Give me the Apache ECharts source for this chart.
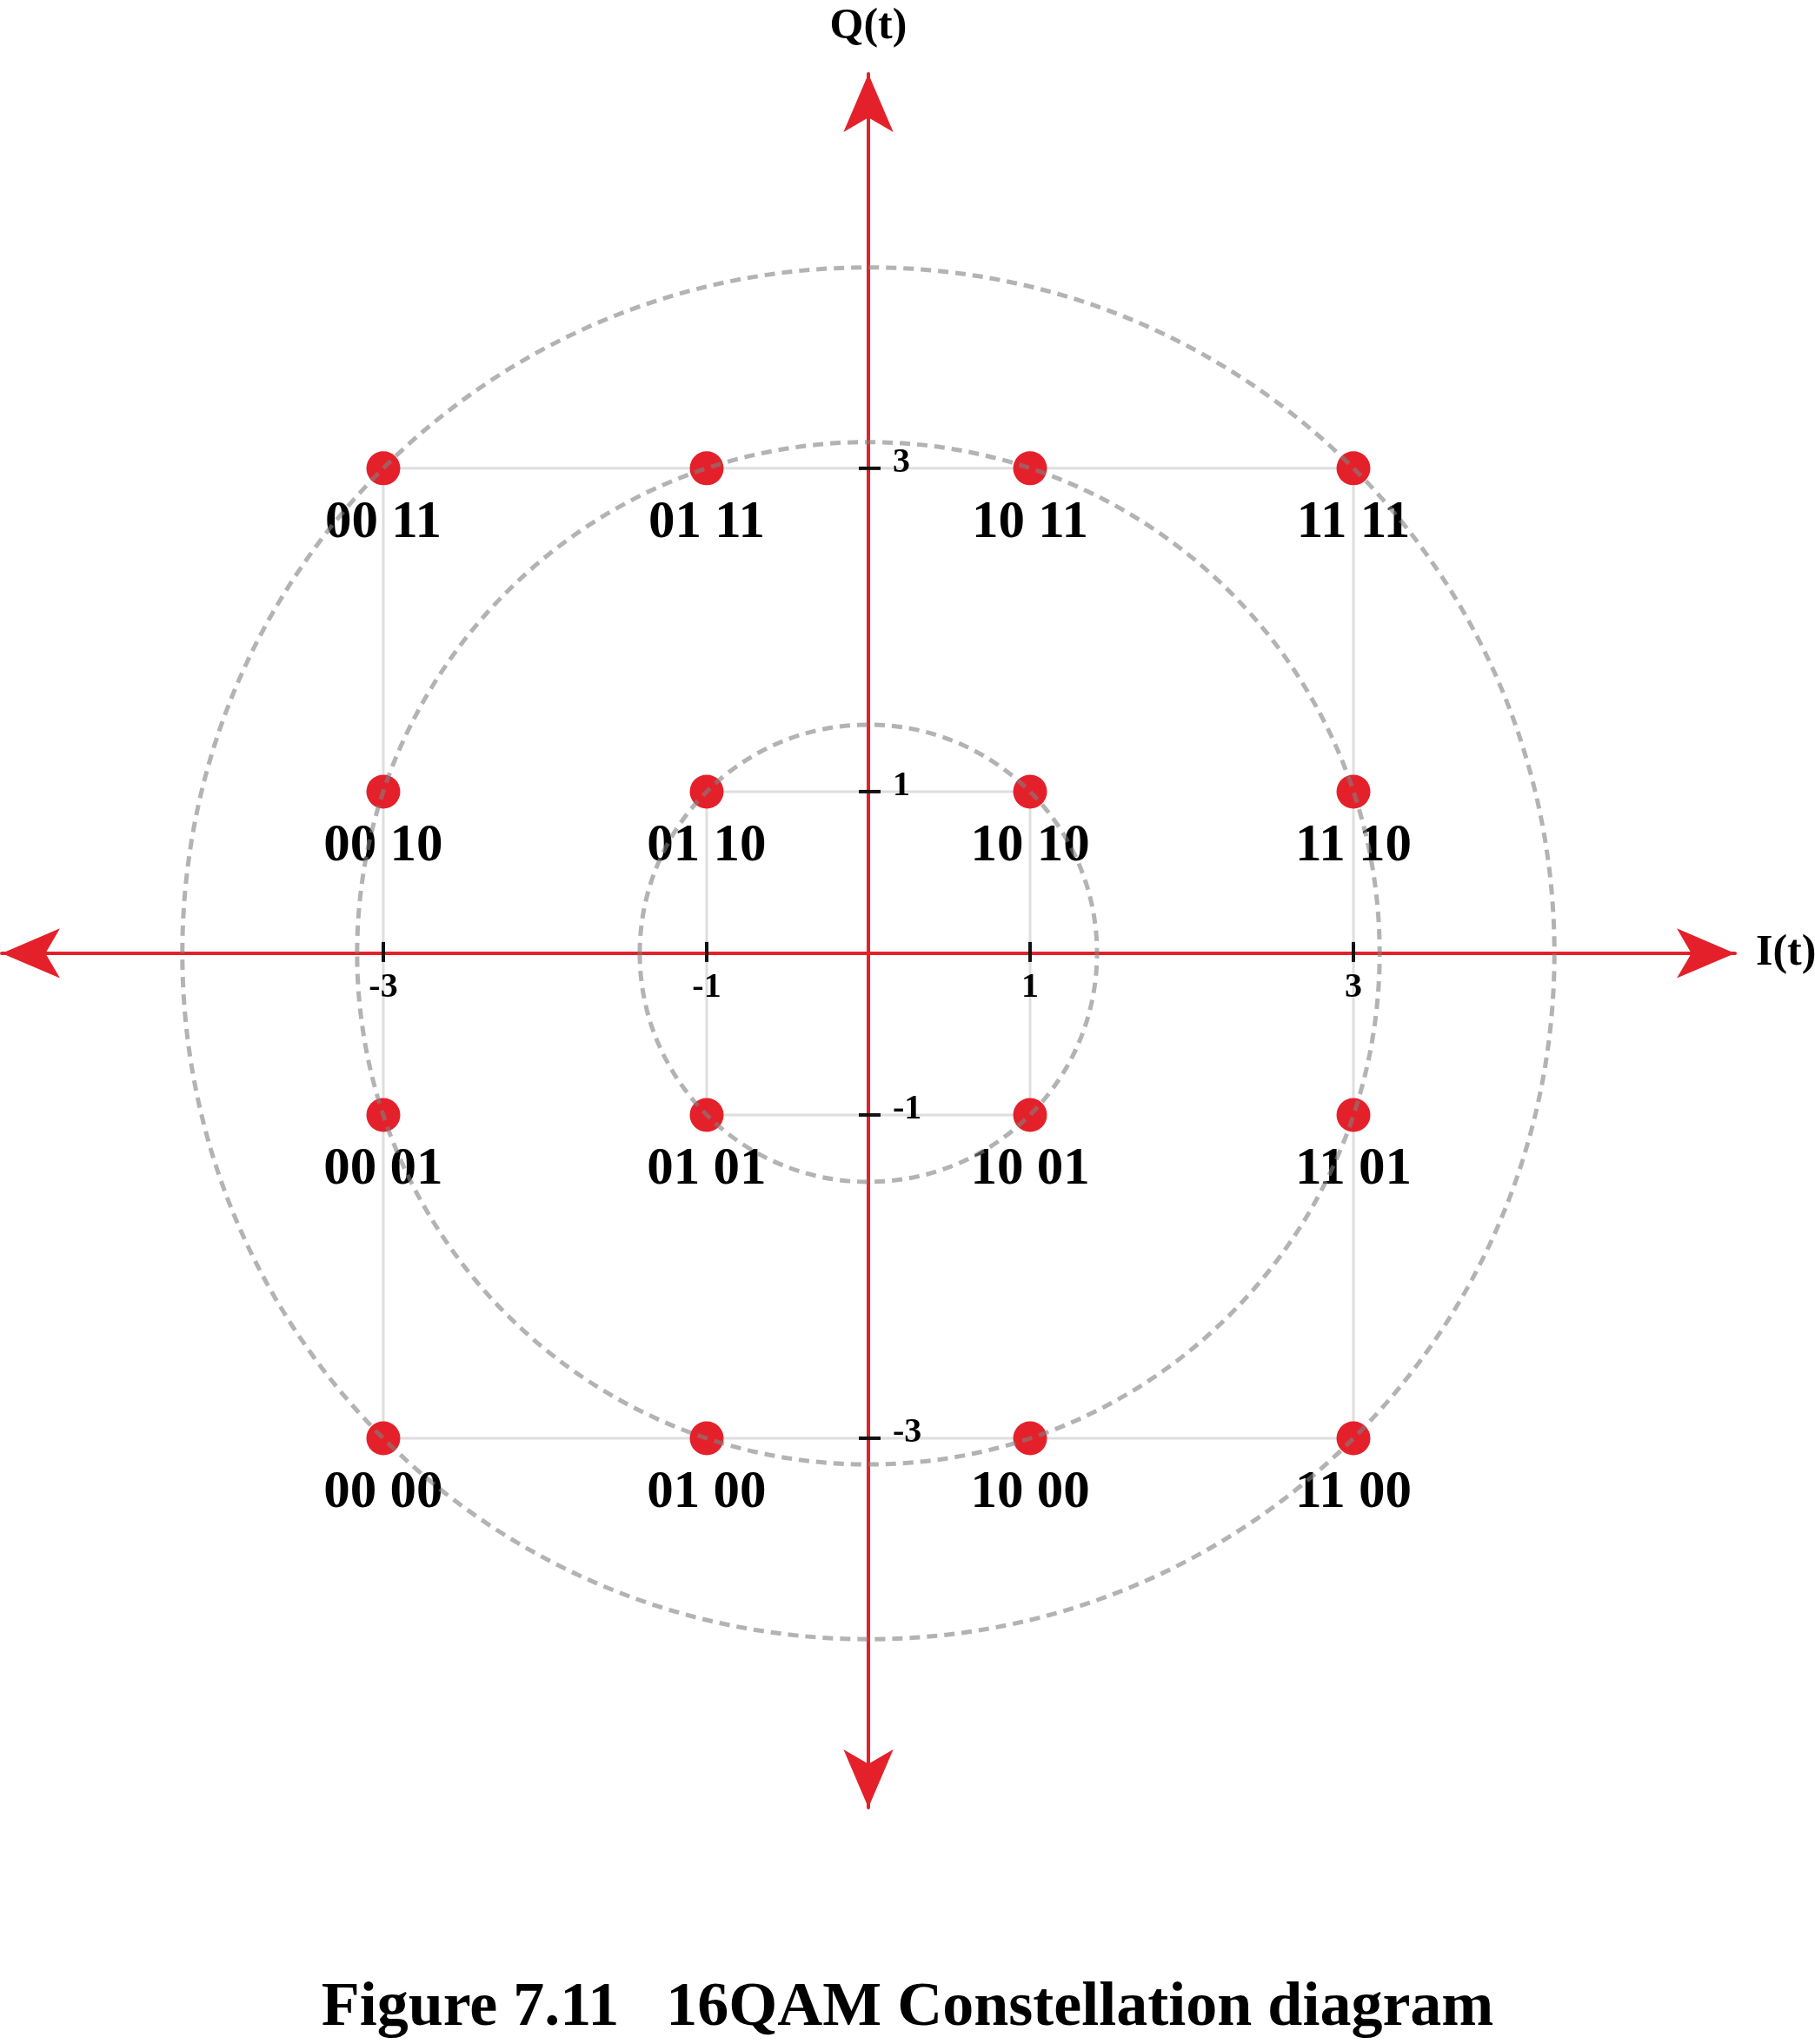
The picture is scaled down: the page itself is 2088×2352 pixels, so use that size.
<!DOCTYPE html>
<html><head><meta charset="utf-8">
<script src="https://cdn.jsdelivr.net/npm/echarts@6/dist/echarts.min.js"></script>
<style>html,body{margin:0;padding:0;background:#fff}#chart{width:2088px;height:2352px}</style>
</head><body><div id="chart"></div>
<script>
// ---- data ----
const pointI = [-3, -1, 1, 3, -3, -1, 1, 3, -3, -1, 1, 3, -3, -1, 1, 3];
const pointQ = [3, 3, 3, 3, 1, 1, 1, 1, -1, -1, -1, -1, -3, -3, -3, -3];
const pointLabels = ['00 11', '01 11', '10 11', '11 11',
                     '00 10', '01 10', '10 10', '11 10',
                     '00 01', '01 01', '10 01', '11 01',
                     '00 00', '01 00', '10 00', '11 00'];
const tickValues = [-3, -1, 1, 3];
const tickLabels = ['-3', '-1', '1', '3'];
const ringRadii = [1.414, 3.162, 4.243];
const outerSquareI = [-3, 3, 3, -3, -3];
const outerSquareQ = [3, 3, -3, -3, 3];
const innerSquareI = [-1, 1, 1, -1, -1];
const innerSquareQ = [1, 1, -1, -1, 1];
const axisNames = ['I(t)', 'Q(t)'];
const titleText = 'Figure 7.11   16QAM Constellation diagram';

// ---- styles ----
const RED = '#e4212a';
const FONT = 'Liberation Serif';
const X_MIN = -5.36, X_MAX = 5.36, Y_MIN = -5.285, Y_MAX = 5.44;

const chart = echarts.init(document.getElementById('chart'), null, { renderer: 'canvas' });
chart.setOption({
  backgroundColor: '#ffffff',
  animation: false,
  title: {
    text: titleText, left: 'center', top: 2270,
    textStyle: { fontFamily: FONT, fontWeight: 'bold', fontSize: 72, color: '#000' }
  },
  grid: { left: 2, top: 85, width: 1994, height: 1995, containLabel: false, outerBoundsMode: 'none' },
  xAxis: {
    type: 'value', min: X_MIN, max: X_MAX,
    name: axisNames[0], nameLocation: 'end', nameGap: 24, nameMoveOverlap: false,
    nameTextStyle: { fontFamily: FONT, fontWeight: 'bold', fontSize: 50, color: '#000', verticalAlign: 'middle', align: 'left' },
    axisLine: { show: true, onZero: true, symbol: ['arrow', 'arrow'], symbolSize: [43, 67],
      lineStyle: { color: RED, width: 4 } },
    axisTick: { show: false }, axisLabel: { show: false }, splitLine: { show: false }
  },
  yAxis: {
    type: 'value', min: Y_MIN, max: Y_MAX,
    name: axisNames[1], nameLocation: 'end', nameGap: 29, nameMoveOverlap: false,
    nameTextStyle: { fontFamily: FONT, fontWeight: 'bold', fontSize: 50, color: '#000', align: 'center', verticalAlign: 'bottom' },
    axisLine: { show: true, onZero: true, symbol: ['arrow', 'arrow'], symbolSize: [43, 67],
      lineStyle: { color: RED, width: 4 } },
    axisTick: { show: false }, axisLabel: { show: false }, splitLine: { show: false }
  },
  series: [
    {
      type: 'line', name: 'outer', z: 1, silent: true,
      data: outerSquareI.map((v, i) => [v, outerSquareQ[i]]),
      symbol: 'none', lineStyle: { color: '#dedee0', width: 3 }
    },
    {
      type: 'line', name: 'inner', z: 1, silent: true,
      data: innerSquareI.map((v, i) => [v, innerSquareQ[i]]),
      symbol: 'none', lineStyle: { color: '#dedee0', width: 3 }
    },
    {
      type: 'scatter', name: 'points', z: 3,
      symbol: 'circle', symbolSize: 39,
      itemStyle: { color: '#e4212a', opacity: 1 },
      data: pointI.map((v, i) => ({ value: [v, pointQ[i]], name: pointLabels[i] })),
      label: {
        show: true, position: 'bottom', distance: 13, formatter: p => p.name,
        fontFamily: FONT, fontWeight: 'bold', fontSize: 61, color: '#000', opacity: 1
      }
    },
    {
      type: 'custom', name: 'rings', z: 4, silent: true,
      encode: { x: 0, y: 1 },
      data: ringRadii.map(r => [0, 0, r]),
      renderItem: function (params, api) {
        const c = api.coord([api.value(0), api.value(1)]);
        const s = api.size([api.value(2), api.value(2)]);
        return {
          type: 'ellipse',
          shape: { cx: c[0], cy: c[1], rx: s[0], ry: s[1] },
          style: { fill: 'none', stroke: 'rgba(128,128,128,0.6)', lineWidth: 5, lineDash: [12, 8] }
        };
      }
    },
    {
      type: 'custom', name: 'xTicks', z: 5, silent: true,
      encode: { x: 0, y: 1 },
      data: tickValues.map((v, i) => [v, 0, i]),
      renderItem: function (params, api) {
        const p = api.coord([api.value(0), api.value(1)]);
        return { type: 'group', children: [
          { type: 'line', shape: { x1: p[0], y1: p[1] - 13, x2: p[0], y2: p[1] + 10 },
            style: { stroke: '#111', lineWidth: 4 } },
          { type: 'text', x: p[0], y: p[1] + 40,
            style: { text: tickLabels[api.value(2)], fontFamily: FONT, fontWeight: 'bold', fontSize: 40,
              fill: '#000', align: 'center', verticalAlign: 'middle' } }
        ] };
      }
    },
    {
      type: 'custom', name: 'yTicks', z: 5, silent: true,
      encode: { x: 0, y: 1 },
      data: tickValues.map((v, i) => [0, v, i]),
      renderItem: function (params, api) {
        const p = api.coord([api.value(0), api.value(1)]);
        return { type: 'group', children: [
          { type: 'line', shape: { x1: p[0] - 11, y1: p[1], x2: p[0] + 14, y2: p[1] },
            style: { stroke: '#111', lineWidth: 4 } },
          { type: 'text', x: p[0] + 28, y: p[1] - 6,
            style: { text: tickLabels[api.value(2)], fontFamily: FONT, fontWeight: 'bold', fontSize: 40,
              fill: '#000', align: 'left', verticalAlign: 'middle' } }
        ] };
      }
    }
  ]
});
</script>
</body></html>
